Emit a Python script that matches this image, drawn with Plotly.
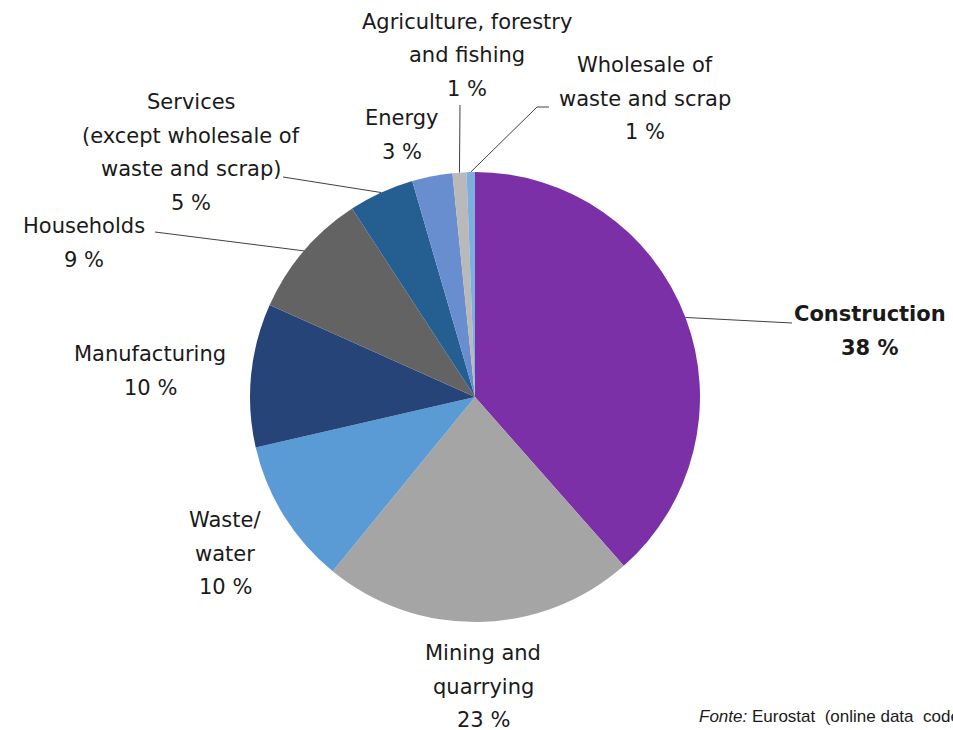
import math
import plotly.graph_objects as go

W, H = 953, 730

# Data
categories = ["Construction", "Mining and quarrying", "Waste/water", "Manufacturing",
              "Households", "Services (except wholesale of waste and scrap)", "Energy",
              "Agriculture, forestry and fishing", "Wholesale of waste and scrap"]
values = [38.5, 22.4, 10.5, 10.3, 9.1, 4.7, 2.9, 1.0, 0.6]
pct_labels = ["38 %", "23 %", "10 %", "10 %", "9 %", "5 %", "3 %", "1 %", "1 %"]
colors = ["#7B30A8", "#A5A5A5", "#5B9BD5", "#264478", "#636363",
          "#255E91", "#698ED0", "#B9B9B9", "#7CAFDD"]

# label text lines (text layout)
label_lines = [
    ["<b>Construction</b>", "<b>38 %</b>"],
    ["Mining and", "quarrying", "23 %"],
    ["Waste/", "water", "10 %"],
    ["Manufacturing", "10 %"],
    ["Households", "9 %"],
    ["Services", "(except wholesale of", "waste and scrap)", "5 %"],
    ["Energy", "3 %"],
    ["Agriculture, forestry", "and fishing", "1 %"],
    ["Wholesale of", "waste and scrap", "1 %"],
]
# label first-line centre positions in pixels (layout)
label_pos = [(870, 314), (483, 653), (225, 520), (150, 354), (84, 226),
             (191, 102), (402, 118), (467, 22), (645, 65)]
line_step = 33.5
# leader line end points (pixels), None = no leader
leader_end = [[(792, 323)], None, None, None, [(155, 232)],
              [(283, 177)], None, [(460, 105)], [(537, 107), (549, 107)]]

cx, cy, R = 475, 397, 225

def px(x):
    return x / W

def py(y):
    return 1 - y / H

fig = go.Figure(go.Pie(
    labels=categories, values=values, sort=False, direction="clockwise",
    rotation=0, marker=dict(colors=colors, line=dict(width=0)),
    textinfo="none", hoverinfo="label+percent", showlegend=False,
    domain=dict(x=[px(cx - R), px(cx + R)], y=[py(cy + R), py(cy - R)]),
))

font_family = "DejaVu Sans"
annotations = []
for lines, (lx, ly) in zip(label_lines, label_pos):
    for i, t in enumerate(lines):
        annotations.append(dict(
            x=px(lx), y=py(ly + i * line_step), xref="paper", yref="paper",
            text=t, showarrow=False, xanchor="center", yanchor="middle",
            font=dict(family=font_family, size=21, color="#1A1A1A")))

shapes = []
total = sum(values)
cum = 0
for v, ends in zip(values, leader_end):
    mid = (cum + v / 2) / total * 2 * math.pi
    cum += v
    if ends is None:
        continue
    sx = cx + R * math.sin(mid)
    sy = cy - R * math.cos(mid)
    pts = [(sx, sy)] + ends
    for (x0, y0), (x1, y1) in zip(pts[:-1], pts[1:]):
        shapes.append(dict(type="line", xref="paper", yref="paper",
                           x0=px(x0), y0=py(y0), x1=px(x1), y1=py(y1),
                           line=dict(color="#404040", width=1)))

annotations.append(dict(
    x=px(697), y=py(716), xref="paper", yref="paper", xanchor="left", yanchor="middle",
    text="<i>Fonte:</i> Eurostat  (online data  code: env_wasgen)", showarrow=False,
    font=dict(family="Liberation Sans", size=17, color="#1A1A1A")))

fig.update_layout(
    width=W, height=H, margin=dict(l=0, r=0, t=0, b=0),
    paper_bgcolor="white", plot_bgcolor="white",
    annotations=annotations, shapes=shapes,
)

fig.write_html("out.html", config={"displayModeBar": False},
               post_script="document.body.style.margin='0';")
